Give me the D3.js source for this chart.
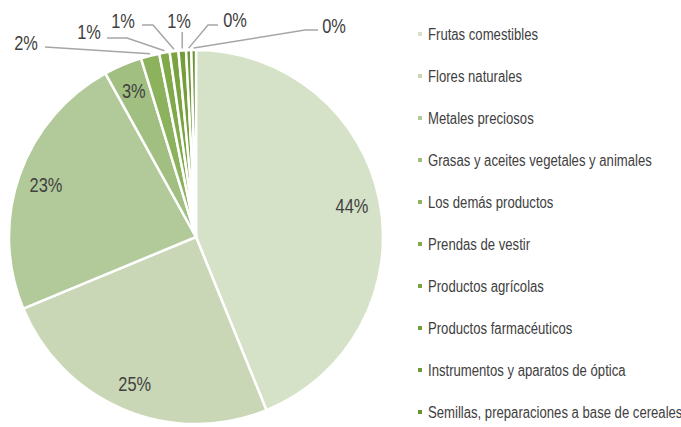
<!DOCTYPE html>
<html><head><meta charset="utf-8">
<script src="https://cdn.jsdelivr.net/npm/d3@7"></script>
<style>html,body{margin:0;padding:0;background:#fff;}svg{display:block;}</style>
</head><body>
<svg id="c" width="681" height="427"></svg>
<script>
const categories = ["Frutas comestibles","Flores naturales","Metales preciosos","Grasas y aceites vegetales y animales","Los demás productos","Prendas de vestir","Productos agrícolas","Productos farmacéuticos","Instrumentos y aparatos de óptica","Semillas, preparaciones a base de cereales"];
const values = [43.85, 24.9, 23.2, 3.3, 1.6, 0.9, 0.75, 0.65, 0.45, 0.4];
const colors = ["#d6e2c8","#c9d7b6","#b2c99a","#a1bf80","#8db25d","#80a94a","#79a240","#749e39","#6e9934","#69942f"];
// outside label layout for small slices (index -> label centre, line start, elbow)
const outsideLabels = {
  4: {tx: 26, ty: 43, sx: 45, sy: 47, ex: 45},
  5: {tx: 89, ty: 32, sx: 107, sy: 38, ex: 127},
  6: {tx: 123, ty: 21, sx: 142, sy: 25, ex: 153},
  7: {tx: 179, ty: 21, sx: null},
  8: {tx: 235, ty: 20, sx: 218, sy: 25, ex: 208},
  9: {tx: 334, ty: 26, sx: 318, sy: 30, ex: 305}
};

const svg = d3.select("#c");
const cx = 196, cy = 237, R = 187;
const total = d3.sum(values);
const pie = d3.pie().value(d => d).sort(null);
const arcs = pie(values);
const arc = d3.arc().innerRadius(0).outerRadius(R);
const g = svg.append("g").attr("transform", `translate(${cx},${cy})`);
g.selectAll("path").data(arcs).join("path")
  .attr("d", arc).attr("fill", (d,i) => colors[i])
  .attr("stroke", "#fff").attr("stroke-width", 2.5).attr("stroke-linejoin","miter");

const fmt = v => Math.round(v / total * 100) + "%";
const font = "'Liberation Sans',Arial,sans-serif";
const NARROW = 0.82;
function ntext(parent, x, y, str, size, anchor) {
  return parent.append("text")
    .attr("transform", `translate(${x},${y}) scale(${NARROW},1)`)
    .attr("dy","0.35em").attr("text-anchor", anchor)
    .attr("font-family", font).attr("font-size", size)
    .attr("fill","#404040").text(str);
}
const labelArc = d3.arc().innerRadius(R*0.85).outerRadius(R*0.85);
arcs.forEach((d,i) => {
  if (outsideLabels[i]) return;
  const [x,y] = labelArc.centroid(d);
  ntext(g, x, y, fmt(d.value), 20, "middle");
});
arcs.forEach((d,i) => {
  const L = outsideLabels[i]; if (!L) return;
  const a = (d.startAngle + d.endAngle)/2;
  const px = cx + R*Math.sin(a), py = cy - R*Math.cos(a);
  let pts;
  if (L.sx === null) {
    pts = [[px, L.ty+11],[px, py-2]];
  } else {
    pts = [[L.sx, L.sy],[L.ex, L.sy],[px, py-2]];
  }
  svg.append("path").attr("d", d3.line()(pts)).attr("fill","none")
    .attr("stroke","#a6a6a6").attr("stroke-width",1.5);
  ntext(svg, L.tx, L.ty, fmt(d.value), 20, "middle");
});

const legend = svg.append("g");
categories.forEach((c,i) => {
  const y = 34 + i*42;
  legend.append("rect").attr("x",418).attr("y",y-2).attr("width",4).attr("height",4).attr("fill",colors[i]);
  ntext(legend, 428, y, c, 16, "start");
});
</script>
</body></html>
